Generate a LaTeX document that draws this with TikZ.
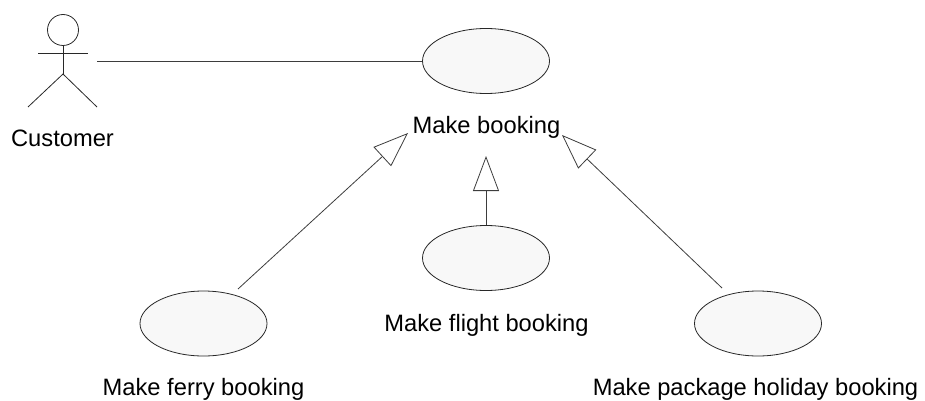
\documentclass[tikz,border=0pt]{standalone}
\usepackage{fontspec}
\setmainfont{Liberation Sans}
\usetikzlibrary{arrows.meta,shapes.geometric}
\definecolor{ucfill}{RGB}{248,248,248}
\definecolor{ucline}{RGB}{40,40,40}
\begin{document}
\begin{tikzpicture}[x=1pt,y=-1pt,
  uc/.style={ellipse,draw=ucline,fill=ucfill,line width=0.8pt,minimum width=127pt,minimum height=65pt,inner sep=0pt},
  lbl/.style={anchor=base,inner sep=0pt,font=\fontsize{23.7}{28}\selectfont},
  conn/.style={draw=ucline!90,line width=0.8pt},
  gen/.style={conn,-{Triangle[open,length=35pt,width=26pt,line width=0.8pt]}},
  actorline/.style={draw=ucline,line width=0.8pt}]
\useasboundingbox (0,0) rectangle (925,401);
% actor
\node[circle,draw=ucline,line width=0.8pt,minimum size=31pt,inner sep=0pt] (head) at (63,30) {};
\coordinate (hip) at (63,74);
\draw[actorline] (head.south) -- (hip);
\draw[actorline] (38,53) -- (88,53);
\draw[actorline] (28,107) -- (hip) -- (97,107);
\node[lbl] (custlbl) at (62.5,146) {Customer};
\coordinate (custR) at (97,61);
% use cases
\node[uc] (main) at (486,61) {};
\node[lbl] (mainlbl) at (486.5,133) {Make booking};
\node[uc] (flight) at (486,258) {};
\node[lbl] (flightlbl) at (486.5,331) {Make flight booking};
\node[uc] (ferry) at (203.5,323.5) {};
\node[lbl] (ferrylbl) at (203.5,395) {Make ferry booking};
\node[uc] (pkg) at (758,323.5) {};
\node[lbl] (pkglbl) at (755.5,395) {Make package holiday booking};
% connector ends
\coordinate (tipL) at (408,133);
\coordinate (tipM) at (486,156);
\coordinate (tipR) at (562,135);
\coordinate (ferryEnd) at (238,289);
\coordinate (pkgEnd) at (722,288);
% connectors
\draw[conn] (custR) -- (main.west);
\draw[gen] (ferryEnd) -- (tipL);
\draw[gen] (flight.north) -- (tipM);
\draw[gen] (pkgEnd) -- (tipR);
\end{tikzpicture}
\end{document}
